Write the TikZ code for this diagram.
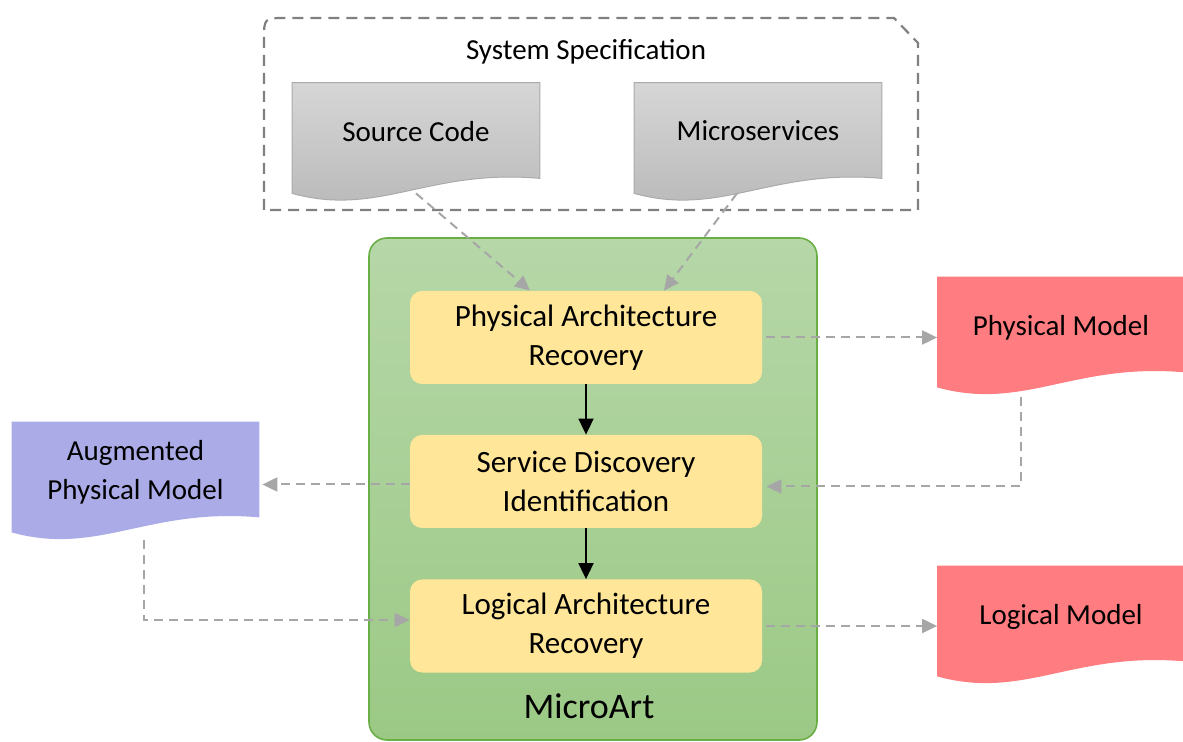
\documentclass[tikz,border=0pt]{standalone}
\usepackage{fontspec}
\setmainfont{Carlito}
\usetikzlibrary{arrows.meta,positioning,calc,backgrounds}
\definecolor{stageyellow}{HTML}{FFE699}
\definecolor{modelred}{HTML}{FF7C80}
\definecolor{augblue}{HTML}{ABABE7}
\definecolor{flowgray}{HTML}{A6A6A6}
\definecolor{specgray}{HTML}{808080}
\definecolor{greentop}{HTML}{B6D7A8}
\definecolor{greenbot}{HTML}{9BC985}
\definecolor{greenline}{HTML}{6AAF45}
% document outline with a wavy lower edge
\newcommand{\docwave}[2]{%
  \path[#2] (#1.north west) -- (#1.north east) -- ($(#1.south east)+(0,-15)$)
    .. controls ($(#1.south west)!0.55!(#1.south east)+(0,-25)$)
    and ($(#1.south west)!0.35!(#1.south east)+(0,24)$) .. (#1.south west) -- cycle;}

\begin{document}
\begin{tikzpicture}[x=0.5pt,y=-0.5pt,>=Latex,
  doc/.style={minimum width=123.5pt,minimum height=55pt,inner sep=0pt,align=center,
  text depth=7pt,font=\fontsize{14.5}{19.5}\selectfont},
  stagebox/.style={fill=stageyellow,rounded corners=6pt,minimum width=176pt,
  minimum height=46.5pt,inner sep=0pt,align=center,font=\fontsize{15.5}{19.5}\selectfont},
  microart/.style={draw=greenline,line width=0.8pt,top color=greentop,bottom color=greenbot,
  rounded corners=9pt,minimum width=224pt,minimum height=251pt,inner sep=0pt},
  graydoc/.style={top color=black!16,bottom color=black!28,draw=black!33,line width=0.5pt},
  flow/.style={draw=flowgray,line width=1pt,dash pattern=on 4.5pt off 3pt,
  -{Triangle[length=7.5pt,width=7pt]},color=flowgray},
  step arrow/.style={line width=0.9pt,-{Triangle[length=8pt,width=7.5pt]}}]
\useasboundingbox (0,0) rectangle (1183,742);
% system specification frame
\draw[specgray,line width=1.1pt,dash pattern=on 5.5pt off 3.5pt]
  (264,210) -- (264,40) .. controls (264,18) .. (286,18) -- (894,18) -- (918,43) -- (918,210) -- cycle;
\node[font=\fontsize{14.5}{18}\selectfont] (spec) at (586,52) {System\ Specification};
\node[doc] (src) at (416,138) {Source Code};
\node[doc] (msv) at (758,138) {Microservices};
% MicroArt
\node[microart] (ma) at (593,489) {};
\node[font=\fontsize{18}{22}\selectfont] (matext) at (589,706) {MicroArt};
\node[stagebox] (par) at (586,337.5) {Physical Architecture\\Recovery};
\node[stagebox] (sdi) at (586,481.5) {Service Discovery\\Identification};
\node[stagebox] (lar) at (586,626) {Logical Architecture\\Recovery};
% models
\node[doc] (pm) at (1061,332) {Physical Model};
\node[doc] (lm) at (1061,621) {Logical Model};
\node[doc] (aug) at (135.5,477) {Augmented\\Physical Model};
\begin{scope}[on background layer]
\docwave{src}{graydoc}
\docwave{msv}{graydoc}
\docwave{pm}{fill=modelred}
\docwave{lm}{fill=modelred}
\docwave{aug}{fill=augblue}
\end{scope}
\foreach \a/\b in {par/sdi,sdi/lar} \draw[step arrow] (\a)--(\b);
\draw[flow] (src.south) -- ($(par.north)+(-56,0)$);
\draw[flow] ($(msv.south)+(-21,0)$) -- ($(par.north)+(78,0)$);
\draw[flow] ($(par.east)+(4,0)$) -- (par.east -| pm.west);
\draw[flow] ($(pm.south)+(-40,10)$) |- ($(sdi.east)+(4,5)$);
\draw[flow] ($(sdi.west)+(0,3)$) -- ($(sdi.west -| aug.east)+(3,3)$);
\draw[flow] ($(aug.south)+(8,8)$) |- ($(lar.west)+(0,-6)$);
\draw[flow] ($(lar.east)+(4,0)$) -- (lar.east -| lm.west);
\end{tikzpicture}
\end{document}
